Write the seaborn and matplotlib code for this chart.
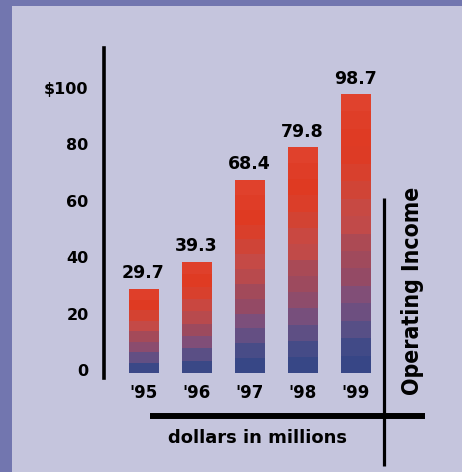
import numpy as np
import pandas as pd
import matplotlib
matplotlib.use("Agg")
import matplotlib.pyplot as plt
import matplotlib.transforms as mtransforms
import seaborn as sns
from matplotlib.colors import LinearSegmentedColormap
from matplotlib.lines import Line2D
from matplotlib.patches import Rectangle

# Operating income, dollars in millions
years = ["'95", "'96", "'97", "'98", "'99"]
income = [29.7, 39.3, 68.4, 79.8, 98.7]
ytick_values = [0, 20, 40, 60, 80, 100]
ytick_labels = ["0", "20", "40", "60", "80", r"\$100"]

BG = "#c5c5dd"
FRAME = "#7276af"

sns.set_theme(style="white")
plt.rcParams["font.family"] = ["DejaVu Sans"]

W, H = 462, 472
fig = plt.figure(figsize=(W / 100, H / 100), dpi=100, facecolor=FRAME)
fig.add_artist(Rectangle((12 / W, 0), 1 - 12 / W, 1 - 6 / H, transform=fig.transFigure,
                         facecolor=BG, edgecolor="none", zorder=0))

ax = fig.add_axes([104 / W, 94 / H, 280 / W, 330 / H])
ax.set_facecolor("none")

df = pd.DataFrame({"year": years, "income": income})
sns.barplot(data=df, x="year", y="income", ax=ax, width=0.55, color="#e03a22",
            saturation=1, errorbar=None)

# blue-to-red banded fill for each bar
grad = LinearSegmentedColormap.from_list("blue_red", [
    (0.000, "#334585"), (0.087, "#3f4a88"), (0.150, "#555087"), (0.210, "#6b4f82"),
    (0.275, "#7f4f7a"), (0.340, "#944b66"), (0.400, "#9f4a5d"), (0.460, "#a84a57"),
    (0.520, "#c04a4a"), (0.585, "#c64a46"), (0.650, "#cf4538"), (0.715, "#d8412e"),
    (0.810, "#e03a22"), (0.930, "#df3f2a"), (1.000, "#e2452f")])

for patch in ax.patches:
    x0, y0 = patch.get_xy()
    w, h = patch.get_width(), patch.get_height()
    n = int(round(5 + 0.11 * h))
    bands = ((np.arange(n) + 0.5) / n).reshape(-1, 1)
    ax.imshow(bands, cmap=grad, vmin=0, vmax=1, extent=(x0, x0 + w, y0, y0 + h),
              origin="lower", aspect="auto", interpolation="nearest", zorder=2)
    patch.set_visible(False)

ax.bar_label(ax.containers[0], labels=[f"{v:.1f}" for v in income], padding=5,
             fontsize=12.5, fontweight="bold", color="black")

sns.despine(ax=ax, bottom=True)
ax.spines["left"].set_linewidth(2.6)
ax.spines["left"].set_color("black")

ax.set_yticks(ytick_values, ytick_labels)
ax.tick_params(axis="y", length=0, pad=11, labelsize=11.5, labelcolor="black")
ax.tick_params(axis="x", length=0, pad=4, labelsize=12, labelcolor="black")
for lbl in ax.get_yticklabels() + ax.get_xticklabels():
    lbl.set_fontweight("bold")
ax.set_xlabel("")
ax.set_ylabel("")
ax.set_xlim(-0.745, 4.538)
ax.set_ylim(-1.77, 115.2)

# rules and captions
fig.add_artist(Line2D([150 / W, 425 / W], [1 - 416 / H, 1 - 416 / H], transform=fig.transFigure,
                      color="black", linewidth=4.3, solid_capstyle="butt"))
fig.add_artist(Line2D([384 / W, 384 / W], [1 - 198 / H, 1 - 466 / H], transform=fig.transFigure,
                      color="black", linewidth=2.3, solid_capstyle="butt"))
fig.text(413 / W, 1 - 291 / H, "Operating Income", rotation=90, ha="center", va="center",
         fontsize=16.5, fontweight="bold", fontstretch="condensed", color="black")
fig.text(258 / W, 1 - 438 / H, "dollars in millions", ha="center", va="center",
         fontsize=13, fontweight="bold", color="black")

# lift the value-axis labels slightly
lift = mtransforms.ScaledTranslation(0, 3 / 100, fig.dpi_scale_trans)
for lbl in ax.get_yticklabels():
    lbl.set_transform(lbl.get_transform() + lift)

fig.savefig("out.png", dpi=100, facecolor=fig.get_facecolor())
